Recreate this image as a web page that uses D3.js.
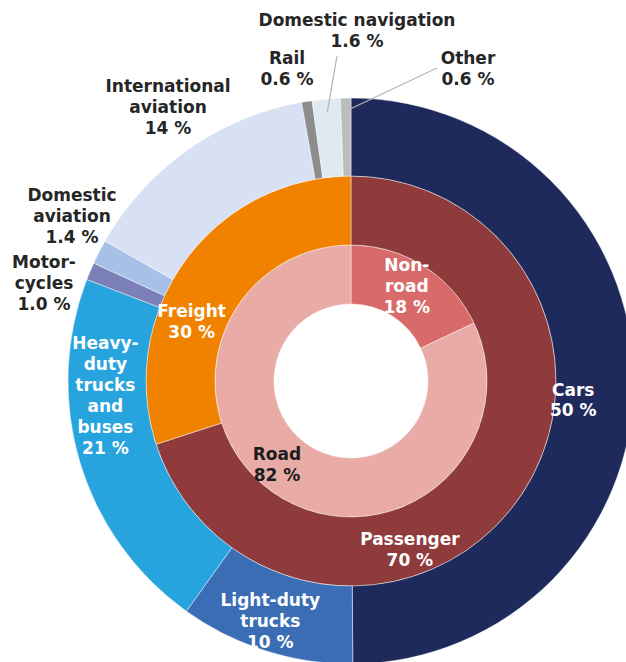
<!DOCTYPE html>
<html>
<head>
<meta charset="utf-8">
<script src="https://cdn.jsdelivr.net/npm/d3@7"></script>
<style>
  html, body { margin: 0; padding: 0; background: #fff; }
  svg { display: block; }
  text { font-family: Verdana, "DejaVu Sans", sans-serif; font-weight: bold; }
</style>
</head>
<body>
<svg id="chart" width="626" height="662"></svg>
<script>
// Transport energy use shares, three nested rings
const outerNames = ["Cars", "Light-duty trucks", "Heavy-duty trucks and buses", "Motorcycles",
  "Domestic aviation", "International aviation", "Rail", "Domestic navigation", "Other"];
const outerValues = [50, 10, 21, 1.0, 1.4, 14, 0.6, 1.6, 0.6];
const outerLines = [["Cars"], ["Light-duty", "trucks"], ["Heavy-", "duty", "trucks", "and", "buses"],
  ["Motor-", "cycles"], ["Domestic", "aviation"], ["International", "aviation"], ["Rail"],
  ["Domestic navigation"], ["Other"]];
const outerColors = ["#1f2a5c", "#3a6db3", "#27a3dd", "#7b80b8", "#a8bfe8", "#d8e0f3",
  "#8c8c8c", "#dfe9f1", "#bcbcbc"];

const middleNames = ["Passenger", "Freight"];
const middleValues = [70, 30];
const middleLines = [["Passenger"], ["Freight"]];
const middleColors = ["#8f3a3b", "#f08200"];

const innerNames = ["Non-road", "Road"];
const innerValues = [18, 82];
const innerLines = [["Non-", "road"], ["Road"]];
const innerColors = ["#d86b69", "#e9aba6"];

const fmt = v => (v < 10 ? v.toFixed(1) : String(v)) + " %";

const svg = d3.select("#chart");
const cx = 351, cy = 381;
const g = svg.append("g").attr("transform", `translate(${cx},${cy})`);

const rings = [
  { names: innerNames, values: innerValues, colors: innerColors, r0: 77, r1: 136 },
  { names: middleNames, values: middleValues, colors: middleColors, r0: 136, r1: 205 },
  { names: outerNames, values: outerValues, colors: outerColors, r0: 205, r1: 283 }
];

const pie = d3.pie().sort(null).value(d => d);
rings.forEach(ring => {
  const arc = d3.arc().innerRadius(ring.r0).outerRadius(ring.r1);
  ring.arcs = pie(ring.values);
  g.append("g").selectAll("path")
    .data(ring.arcs)
    .join("path")
    .attr("d", arc)
    .attr("fill", (d, i) => ring.colors[i])
    .attr("stroke", "rgba(255,255,255,0.55)")
    .attr("stroke-width", 0.8);
});

// polar placement helper: angle in degrees clockwise from 12 o'clock
const polar = (deg, r) => {
  const a = deg * Math.PI / 180;
  return [r * Math.sin(a), -r * Math.cos(a)];
};

const lineH = 21;
function drawLabel(lines, x, y, color) {
  const n = lines.length;
  const t = g.append("text")
    .attr("text-anchor", "middle")
    .attr("fill", color)
    .attr("font-size", 17);
  lines.forEach((s, i) => {
    t.append("tspan")
      .attr("x", x)
      .attr("y", y + (i - (n - 1) / 2) * lineH)
      .attr("dy", "0.35em")
      .text(s);
  });
}

// labels inside the rings: [angle, radius]
const insideSpots = {
  "Cars": [94.9, 223],
  "Light-duty trucks": [198.6, 253],
  "Heavy-duty trucks and buses": [266.7, 246],
  "Passenger": [160.8, 179],
  "Freight": [290.4, 170],
  "Non-road": [30.5, 110],
  "Road": [221.4, 112]
};
// labels outside the chart: offset from the centre
const outsideSpots = {
  "International aviation": [-183, -274],
  "Domestic aviation": [-279, -165],
  "Motorcycles": [-307, -98],
  "Rail": [-64, -312],
  "Domestic navigation": [6, -350],
  "Other": [117, -312]
};

function place(names, values, linesArr, darkSet) {
  names.forEach((name, i) => {
    const lines = linesArr[i].concat([fmt(values[i])]);
    if (insideSpots[name]) {
      const [x, y] = polar(...insideSpots[name]);
      drawLabel(lines, x, y, darkSet.includes(name) ? "#1c1c1c" : "#ffffff");
    } else if (outsideSpots[name]) {
      const [x, y] = outsideSpots[name];
      drawLabel(lines, x, y, "#262626");
    }
  });
}
place(innerNames, innerValues, innerLines, ["Road"]);
place(middleNames, middleValues, middleLines, []);
place(outerNames, outerValues, outerLines, []);

// leader lines for the two thin slices near the top
const outer = rings[2];
[["Domestic navigation", [-14, -325]], ["Other", [86, -313]]].forEach(([name, start]) => {
  const d = outer.arcs[outerNames.indexOf(name)];
  const mid = (d.startAngle + d.endAngle) / 2 * 180 / Math.PI;
  const end = polar(mid, 270);
  g.append("line")
    .attr("x1", start[0]).attr("y1", start[1])
    .attr("x2", end[0]).attr("y2", end[1])
    .attr("stroke", "#b5b5b5")
    .attr("stroke-width", 1.2);
});
</script>
</body>
</html>
